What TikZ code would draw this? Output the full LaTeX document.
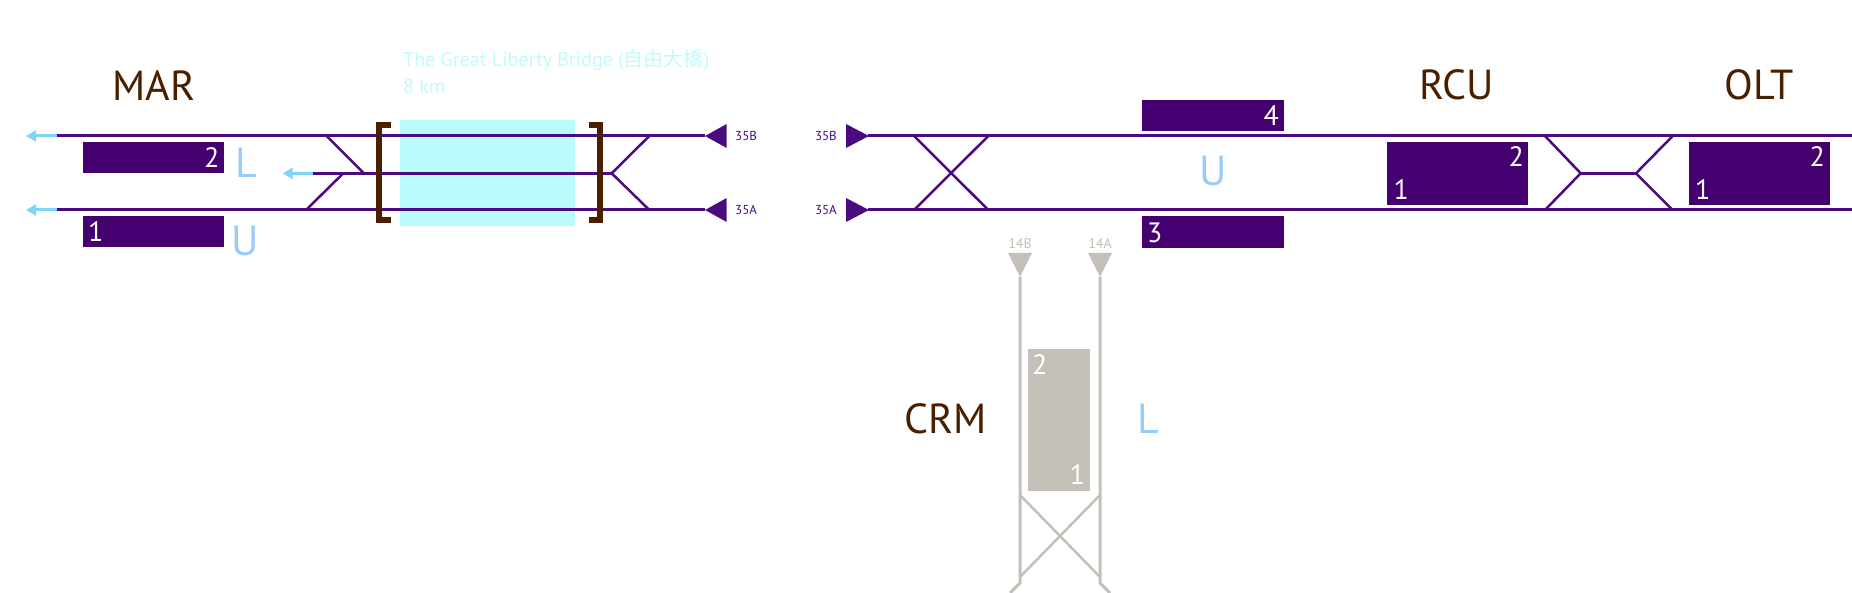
\documentclass[tikz,border=0pt]{standalone}
\usepackage{fontspec}
\setmainfont{PT Sans}
\newfontfamily\cjkfont{Noto Sans CJK TC}
\usetikzlibrary{arrows.meta}
\definecolor{trackc}{HTML}{4A0A80}
\definecolor{platc}{HTML}{45006F}
\definecolor{brownc}{HTML}{4A1F00}
\definecolor{lblue}{HTML}{9ACBFA}
\definecolor{arrowc}{HTML}{80D4F6}
\definecolor{bridgec}{HTML}{B8FCFC}
\definecolor{bridgetext}{HTML}{C2FAFA}
\definecolor{grayc}{HTML}{C4C0B8}
\begin{document}
\begin{tikzpicture}[x=1pt,y=-1pt,
  track/.style={draw=trackc, line width=3pt},
  swline/.style={draw=trackc, line width=2.5pt},
  gtrack/.style={draw=grayc, line width=3pt},
  gsw/.style={draw=grayc, line width=2.5pt},
  platform/.style={fill=platc, draw=none, anchor=north west, inner sep=0pt},
  gplatform/.style={fill=grayc, draw=none, anchor=north west, inner sep=0pt},
  pnum/.style={text=white, inner sep=0pt, font=\fontsize{28}{30}\selectfont},
  station/.style={text=brownc, inner sep=0pt, anchor=base, font=\fontsize{42}{46}\selectfont},
  dirlabel/.style={text=lblue, inner sep=0pt, anchor=base, font=\fontsize{42}{46}\selectfont},
  endlabel/.style={text=trackc, inner sep=0pt, font=\fontsize{13}{15}\selectfont},
  gendlabel/.style={text=grayc, inner sep=0pt, font=\fontsize{14}{16}\selectfont},
  outarrow/.style={draw=arrowc, line width=3pt, -{Triangle[width=11pt,length=10pt]}},
  bracket/.style={draw=brownc, line width=6pt, line join=miter, line cap=butt}
]
\useasboundingbox (0,0) rectangle (1852,593);

% ---------- bridge ----------
\fill[bridgec] (400,120) rectangle (575,226);
\node[text=bridgetext, inner sep=0pt, anchor=base west, font=\fontsize{20}{24}\selectfont] (bt1) at (403,66.7) {The Great Liberty Bridge ({\cjkfont 自由大橋})};
\node[text=bridgetext, inner sep=0pt, anchor=base west, font=\fontsize{20}{24}\selectfont] (bt2) at (403,93.3) {8 km};

% ---------- left section coordinates ----------
\coordinate (LtopW) at (57,136);
\coordinate (LtopE) at (705,136);
\coordinate (LbotW) at (57,210);
\coordinate (LbotE) at (705,210);
\coordinate (LmidW) at (312.7,173.3);
\coordinate (LmidE) at (611.7,173.3);
\coordinate (Lsw1a) at (326.7,136);
\coordinate (Lsw1b) at (364,173.3);
\coordinate (Lsw2a) at (306,210);
\coordinate (Lsw2b) at (343.3,173.3);
\coordinate (Rsw1a) at (649.3,136);
\coordinate (Rsw2a) at (649.3,210);

\draw[track] (LtopW) -- (LtopE);
\draw[track] (LbotW) -- (LbotE);
\draw[track] (LmidW) -- (LmidE);
\draw[swline] (Lsw1a) -- (Lsw1b);
\draw[swline] (Lsw2a) -- (Lsw2b);
\draw[swline] (Rsw1a) -- (LmidE);
\draw[swline] (Rsw2a) -- (LmidE);

% outgoing arrows
\coordinate (ArT) at (26,136);
\coordinate (ArB) at (26,210);
\coordinate (ArM) at (282.7,173.3);
\draw[outarrow] (LtopW) -- (ArT);
\draw[outarrow] (LbotW) -- (ArB);
\draw[outarrow] (LmidW) -- (ArM);

% brackets
\draw[bracket] (390.7,125.5) -- (379,125.5) -- (379,220.5) -- (390.7,220.5);
\draw[bracket] (588.7,125.5) -- (599.5,125.5) -- (599.5,220.5) -- (588.7,220.5);

% end triangles left section
\fill[trackc] (705,136) -- (726.7,124) -- (726.7,148) -- cycle;
\fill[trackc] (705,210) -- (726.7,198) -- (726.7,222) -- cycle;
\node[endlabel, anchor=west] (l35B) at (735,136) {35B};
\node[endlabel, anchor=west] (l35A) at (735,210) {35A};

% MAR platforms
\node[platform, minimum width=141pt, minimum height=31pt] (marP2) at (83,142) {};
\node[pnum, anchor=base east] (marN2) at (219.5,167.5) {2};
\node[platform, minimum width=141pt, minimum height=31pt] (marP1) at (83,216) {};
\node[pnum, anchor=base west] (marN1) at (88,241.5) {1};
\node[station] (MAR) at (154,101) {MAR};
\node[dirlabel] (marL) at (246,178) {L};
\node[dirlabel] (marU) at (245,256) {U};

% ---------- right section ----------
\coordinate (RtopW) at (868,136);
\coordinate (RtopE) at (1852,136);
\coordinate (RbotW) at (868,210);
\coordinate (RbotE) at (1852,210);
\draw[track] (RtopW) -- (RtopE);
\draw[track] (RbotW) -- (RbotE);
\fill[trackc] (869,136) -- (846,124) -- (846,148) -- cycle;
\fill[trackc] (869,210) -- (846,198) -- (846,222) -- cycle;
\node[endlabel, anchor=east] (r35B) at (837,136) {35B};
\node[endlabel, anchor=east] (r35A) at (837,210) {35A};

% scissors crossover
\coordinate (Xa) at (914,136);
\coordinate (Xb) at (988.3,210);
\coordinate (Xc) at (914,210);
\coordinate (Xd) at (988.3,136);
\draw[swline] (Xa) -- (Xb);
\draw[swline] (Xc) -- (Xd);

% U platforms 3/4
\node[platform, minimum width=142pt, minimum height=31pt] (p4) at (1142,100) {};
\node[pnum, anchor=base east] (n4) at (1279,126) {4};
\node[platform, minimum width=142pt, minimum height=32pt] (p3) at (1142,216) {};
\node[pnum, anchor=base west] (n3) at (1147,242.5) {3};
\node[dirlabel] (rU) at (1213,186) {U};

% RCU
\node[platform, minimum width=141.3pt, minimum height=63.3pt] (rcuP) at (1386.7,141.7) {};
\node[pnum, anchor=base east] (rcuN2) at (1524,166.7) {2};
\node[pnum, anchor=base west] (rcuN1) at (1393.3,199.3) {1};
\node[station] (RCU) at (1457,100) {RCU};

% crossover between RCU and OLT
\coordinate (C1) at (1545,136);
\coordinate (C2) at (1545,210);
\coordinate (C3) at (1580.7,173.3);
\coordinate (C4) at (1636,173.3);
\coordinate (C5) at (1672.7,136);
\coordinate (C6) at (1672.7,210);
\draw[swline] (C1) -- (C3);
\draw[swline] (C2) -- (C3);
\draw[swline] (C3) -- (C4);
\draw[swline] (C4) -- (C5);
\draw[swline] (C4) -- (C6);

% OLT
\node[platform, minimum width=141.7pt, minimum height=63.3pt] (oltP) at (1688.3,141.7) {};
\node[pnum, anchor=base east] (oltN2) at (1825,166.7) {2};
\node[pnum, anchor=base west] (oltN1) at (1695,199.3) {1};
\node[station] (OLT) at (1759,100) {OLT};

% ---------- CRM (grey) ----------
\coordinate (G1top) at (1020,276.7);
\coordinate (G2top) at (1100,276.7);
\coordinate (G1bot) at (1020,583);
\coordinate (G2bot) at (1100,583);
\coordinate (G1out) at (1010,593);
\coordinate (G2out) at (1110,593);
\draw[gtrack] (G1top) -- (G1bot) -- (G1out);
\draw[gtrack] (G2top) -- (G2bot) -- (G2out);
\fill[grayc] (1020,276.7) -- (1008,253) -- (1032,253) -- cycle;
\fill[grayc] (1100,276.7) -- (1088,253) -- (1112,253) -- cycle;
\node[gendlabel, anchor=base] (g14B) at (1020,249) {14B};
\node[gendlabel, anchor=base] (g14A) at (1100,249) {14A};
\coordinate (GXa) at (1020,495);
\coordinate (GXb) at (1100,577);
\coordinate (GXc) at (1100,495);
\coordinate (GXd) at (1020,577);
\draw[gsw] (GXa) -- (GXb);
\draw[gsw] (GXc) -- (GXd);

\node[gplatform, minimum width=62pt, minimum height=142pt] (crmP) at (1028,349) {};
\node[pnum, anchor=base west] (crmN2) at (1032,374) {2};
\node[pnum, anchor=base east] (crmN1) at (1085,484.5) {1};
\node[station] (CRM) at (946,433) {CRM};
\node[dirlabel] (crmL) at (1148,433) {L};

\end{tikzpicture}
\end{document}
